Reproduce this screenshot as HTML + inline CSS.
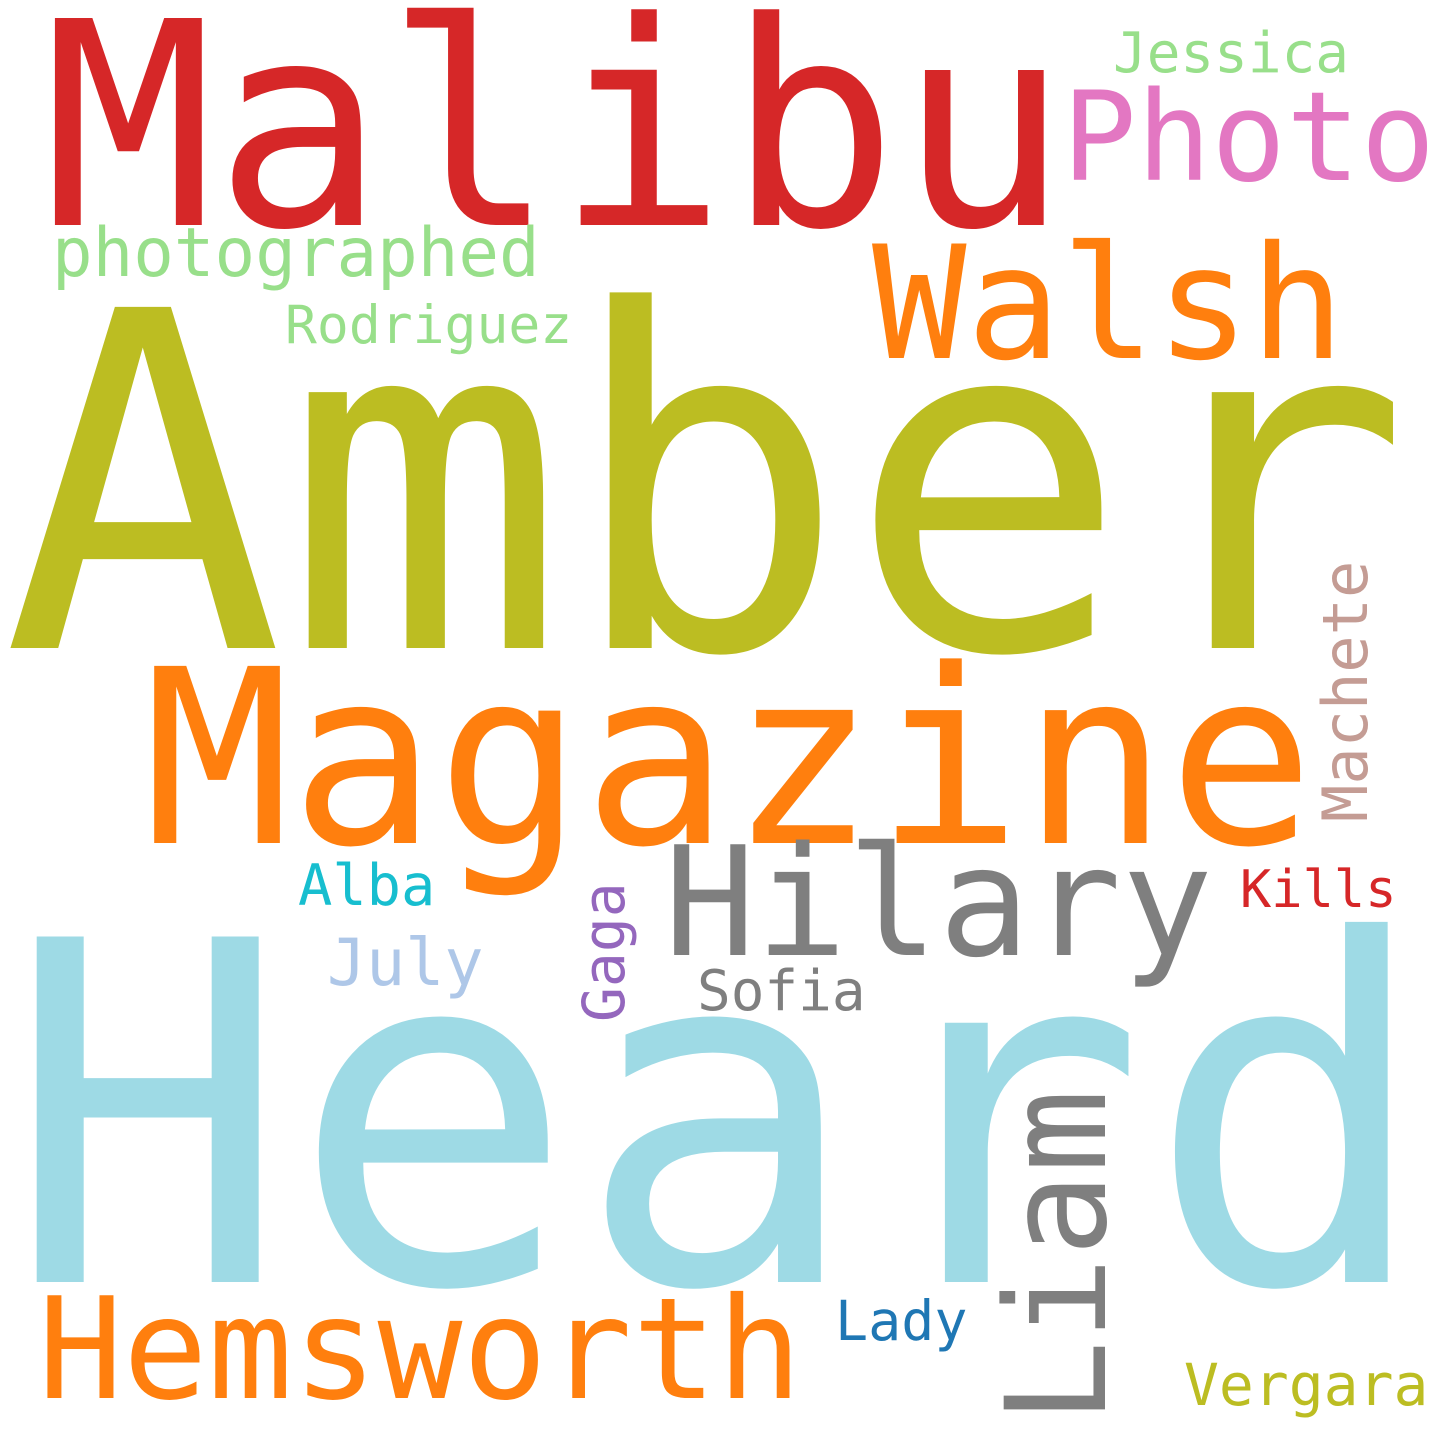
<!DOCTYPE html>
<html><head><meta charset="utf-8"><style>
html,body{margin:0;padding:0;background:#fff;}
svg{display:block;}
text{font-family:"DejaVu Sans Mono","Liberation Mono",monospace;}
</style></head><body>
<svg width="1440" height="1440" viewBox="0 0 1440 1440" xmlns="http://www.w3.org/2000/svg">
<rect width="1440" height="1440" fill="#fff"/>
<text x="43" y="225" font-size="284" fill="#d62728">Malibu</text>
<text x="2" y="648" font-size="468" fill="#bcbd22">Amber</text>
<text x="5" y="1282" font-size="474" fill="#9edae5">Heard</text>
<text x="144" y="843" font-size="243" fill="#ff7f0e">Magazine</text>
<text x="664" y="955" font-size="152" fill="#7f7f7f">Hilary</text>
<text x="872" y="358" font-size="157" fill="#ff7f0e">Walsh</text>
<text x="1062" y="180" font-size="124" fill="#e377c2">Photo</text>
<text x="38" y="1398" font-size="141" fill="#ff7f0e">Hemsworth</text>
<text x="52" y="276" font-size="67.5" fill="#98df8a">photographed</text>
<text x="1113" y="72" font-size="56" fill="#98df8a">Jessica</text>
<text x="285" y="343" font-size="53" fill="#98df8a">Rodriguez</text>
<text x="298" y="905" font-size="57" fill="#17becf">Alba</text>
<text x="327" y="985" font-size="65" fill="#aec7e8">July</text>
<text x="697" y="1010" font-size="56" fill="#7f7f7f">Sofia</text>
<text x="1240" y="907" font-size="52" fill="#d62728">Kills</text>
<text x="835" y="1340" font-size="55" fill="#1f77b4">Lady</text>
<text x="1184" y="1405" font-size="58" fill="#bcbd22">Vergara</text>
<text transform="translate(624,1022) rotate(-90)" font-size="58" fill="#9467bd">Gaga</text>
<text transform="translate(1367,822) rotate(-90)" font-size="62" fill="#c49c94">Machete</text>
<text transform="translate(1105,1424) rotate(-90)" font-size="139" fill="#7f7f7f">Liam</text>
</svg>
</body></html>
